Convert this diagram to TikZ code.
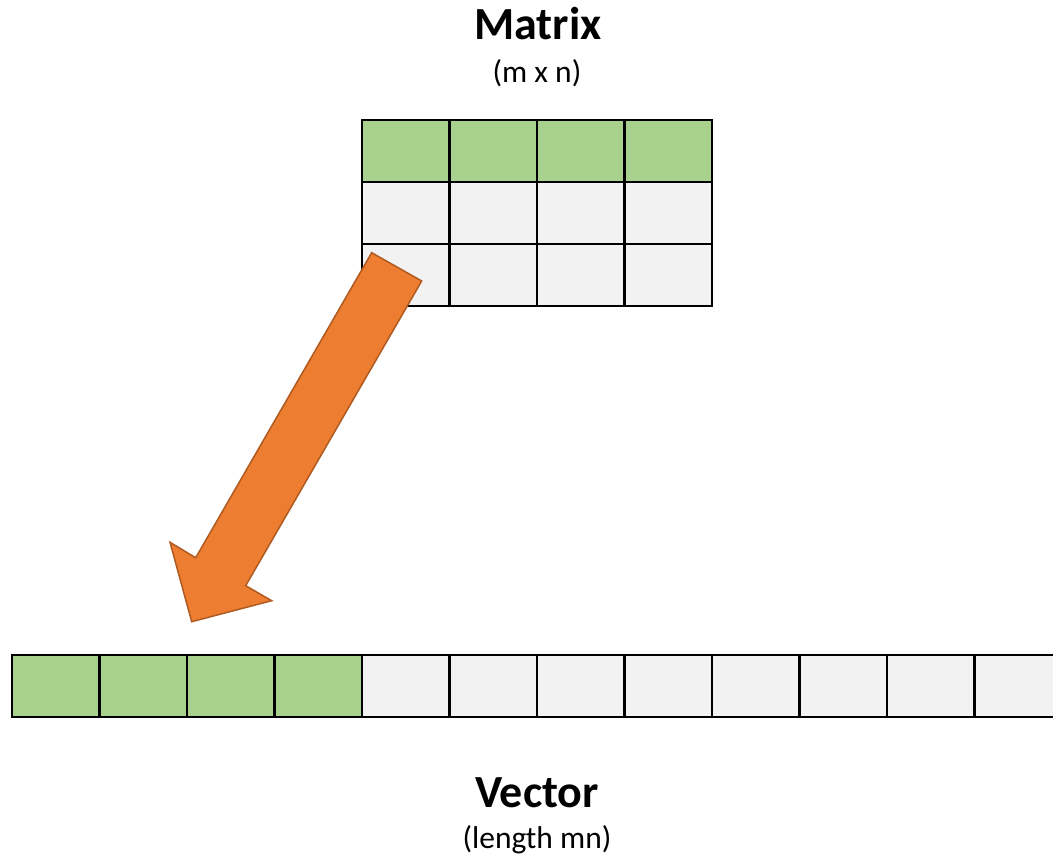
\documentclass[tikz,border=0pt]{standalone}
\usepackage{fontspec}
\setmainfont{Carlito}
\definecolor{cellgreen}{HTML}{A9D18E}
\definecolor{cellgray}{HTML}{F2F2F2}
\definecolor{arroworange}{HTML}{ED7D31}
\definecolor{arrowedge}{HTML}{AE5A21}
\begin{document}
\begin{tikzpicture}[x=1pt,y=-1pt,
  cellbox/.style={draw=black,line width=2.6pt,minimum width=87.5pt,minimum height=62pt,inner sep=0pt,outer sep=0pt,anchor=north west},
  greencell/.style={cellbox,fill=cellgreen},
  graycell/.style={cellbox,fill=cellgray},
  titletext/.style={font=\fontsize{46}{52}\selectfont\bfseries,anchor=base,inner sep=0pt},
  subtext/.style={font=\fontsize{31.5}{36}\selectfont,anchor=base,inner sep=0pt},
  bigarrow/.style={fill=arroworange,draw=arrowedge,line width=1.5pt,line join=miter}]
\useasboundingbox (0,0) rectangle (1053,859);
\clip (0,0) rectangle (1053,859);
% titles
\node[titletext] (mtitle) at (538,40) {Matrix};
\node[subtext] (msub) at (537,82) {(m x n)};
\node[titletext] (vtitle) at (537,807) {Vector};
\node[subtext] (vsub) at (537,848) {(length mn)};
% matrix
\foreach \c in {0,1,2,3} {
  \node[greencell] (m0\c) at ({362+87.5*\c},120) {};
  \node[graycell] (m1\c) at ({362+87.5*\c},182) {};
  \node[graycell] (m2\c) at ({362+87.5*\c},244) {};
}
% vector
\foreach \c in {0,1,2,3} {
  \node[greencell] (v\c) at ({12+87.5*\c},655) {};
}
\foreach \c in {4,...,11} {
  \node[graycell] (v\c) at ({12+87.5*\c},655) {};
}
% arrow
\draw[bigarrow] (371.7,252.7) -- (421.7,281) -- (245.7,585.7) -- (271.7,600.7)
  -- (191.7,621.7) -- (170,542.3) -- (195.7,557.7) -- cycle;
\end{tikzpicture}
\end{document}
